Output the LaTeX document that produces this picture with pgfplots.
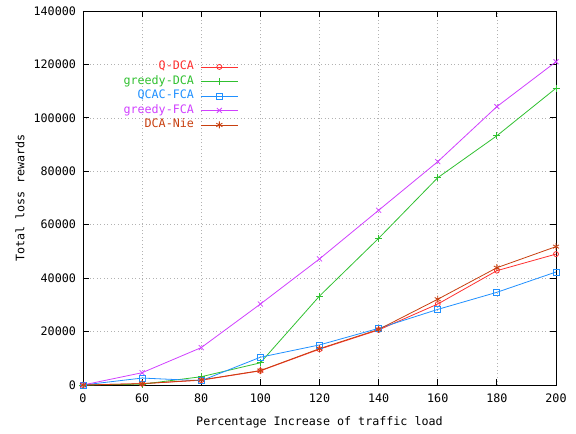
\documentclass[border=0pt]{standalone}
\usepackage{fontspec}
\setmainfont{DejaVu Sans Mono}
\usepackage{pgfplots}
\pgfplotsset{compat=1.18}
\definecolor{cQ}{HTML}{FF3030}
\definecolor{cG}{HTML}{30C030}
\definecolor{cB}{HTML}{2090FF}
\definecolor{cM}{HTML}{D040FF}
\definecolor{cN}{HTML}{C84010}
\begin{document}
\fontsize{11.7}{14}\selectfont
\begin{tikzpicture}
\path[use as bounding box] (-83pt,-49pt) rectangle (493pt,385pt);
\begin{axis}[
  scale only axis, width=473pt, height=374pt,
  xmin=0, xmax=8, ymin=0, ymax=140000,
  xtick={0,...,8}, xticklabels={0,60,80,100,120,140,160,180,200},
  ytick={0,20000,40000,60000,80000,100000,120000,140000},
  scaled y ticks=false,
  /pgf/number format/assume math mode=true,
  /pgf/number format/fixed,
  /pgf/number format/1000 sep={},
  grid=major,
  grid style={dash pattern=on 1pt off 2.5pt, gray!60, line width=0.6pt},
  axis line style={line width=0.8pt},
  major tick length=6pt,
  tick style={black, line width=0.8pt},
  tick label style={font=\fontsize{11.7}{14}\selectfont},
  xticklabel style={yshift=-5pt},
  yticklabel style={xshift=-3pt},
  label style={font=\fontsize{11.7}{14}\selectfont},
  xlabel={Percentage Increase of traffic load},
  ylabel={Total loss rewards},
  xlabel style={at={(axis description cs:0.5,0)}, anchor=center, yshift=-37.5pt},
  ylabel style={at={(axis description cs:-0.1332,0.5)}, anchor=center},
  legend style={draw=none, fill=none, at={(axis description cs:0.335,0.875)}, anchor=north east,
    row sep=0.5pt, column sep=5pt, nodes={inner sep=1.5pt, text height=8.5pt, text depth=2.5pt},
    font=\fontsize{11.7}{14}\selectfont},
  legend cell align=right, legend plot pos=right,
  legend image code/.code={\draw[mark repeat=2,mark phase=2] plot coordinates {(0pt,0pt) (18.5pt,0pt) (37pt,0pt)};},
  every axis plot/.append style={line width=0.8pt, mark size=3pt},
]
\addplot[cQ, mark=o, mark size=2.5pt] coordinates {(0,0) (1,500) (2,1800) (3,5300) (4,13400) (5,20600) (6,30300) (7,42800) (8,49000)};
\addlegendentry{\textcolor{cQ}{Q-DCA}}
\addplot[cG, mark=+, mark size=3.5pt] coordinates {(0,0) (1,300) (2,3100) (3,8300) (4,33300) (5,54900) (6,77600) (7,93300) (8,111100)};
\addlegendentry{\textcolor{cG}{greedy-DCA}}
\addplot[cB, mark=square, mark size=3pt] coordinates {(0,0) (1,2600) (2,1600) (3,10400) (4,15000) (5,21200) (6,28300) (7,34700) (8,42300)};
\addlegendentry{\textcolor{cB}{QCAC-FCA}}
\addplot[cM, mark=x, mark size=3.5pt] coordinates {(0,0) (1,4600) (2,14000) (3,30300) (4,47200) (5,65400) (6,83600) (7,104200) (8,121000)};
\addlegendentry{\textcolor{cM}{greedy-FCA}}
\addplot[cN, mark=asterisk, mark size=3.5pt] coordinates {(0,0) (1,500) (2,1900) (3,5400) (4,13600) (5,20800) (6,32100) (7,43900) (8,51800)};
\addlegendentry{\textcolor{cN}{DCA-Nie}}
\end{axis}
\end{tikzpicture}
\end{document}
